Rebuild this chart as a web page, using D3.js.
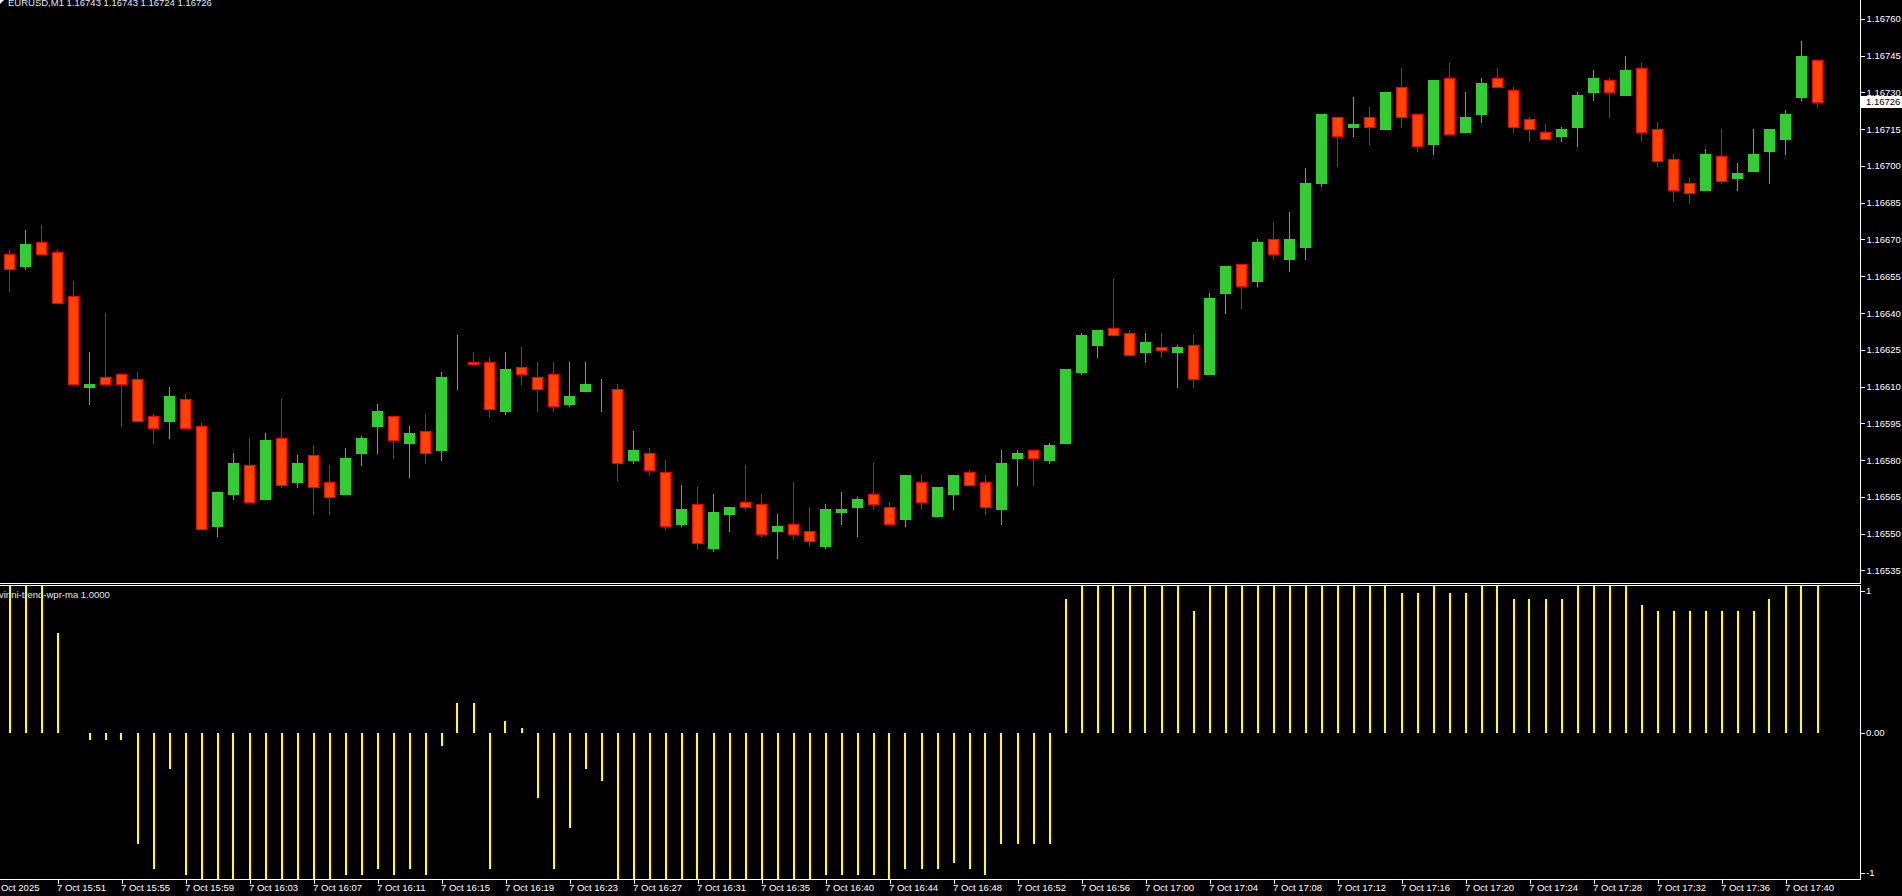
<!DOCTYPE html>
<html><head><meta charset="utf-8">
<script src="https://cdn.jsdelivr.net/npm/d3@7"></script>
<style>html,body{margin:0;padding:0;background:#000;overflow:hidden}svg{display:block}
text{font-family:"Liberation Sans",Arial,sans-serif;font-size:9.5px}</style>
</head><body><svg id="c" width="1902" height="896"></svg>
<script>
const symbol = "EURUSD,M1";
const indicatorName = "virini-trend-wpr-ma 1.0000";
const opens = [1.16664,1.16659,1.16669,1.16665,1.16647,1.16610,1.16614,1.16615,1.16613,1.16598,
1.16596,1.16605,1.16594,1.16553,1.16566,1.16578,1.16564,1.16589,1.16571,1.16582,
1.16571,1.16566,1.16583,1.16594,1.16598,1.16587,1.16592,1.16584,1.16619,1.16620,
1.16620,1.16600,1.16618,1.16614,1.16615,1.16603,1.16608,1.16610,1.16609,1.16580,
1.16583,1.16575,1.16554,1.16562,1.16544,1.16558,1.16563,1.16562,1.16551,1.16554,
1.16551,1.16545,1.16559,1.16561,1.16566,1.16561,1.16556,1.16571,1.16557,1.16566,
1.16575,1.16571,1.16560,1.16581,1.16584,1.16580,1.16587,1.16616,1.16627,1.16634,
1.16632,1.16624,1.16626,1.16624,1.16627,1.16615,1.16648,1.16660,1.16653,1.16670,
1.16662,1.16667,1.16693,1.16720,1.16716,1.16720,1.16715,1.16732,1.16721,1.16709,
1.16736,1.16714,1.16721,1.16736,1.16731,1.16719,1.16714,1.16712,1.16716,1.16730,
1.16735,1.16729,1.16740,1.16715,1.16703,1.16693,1.16690,1.16704,1.16695,1.16698,
1.16706,1.16711,1.16728,1.16743];
const highs = [1.16666,1.16674,1.16676,1.16666,1.16653,1.16624,1.16640,1.16615,1.16616,1.16599,
1.16610,1.16607,1.16595,1.16567,1.16583,1.16589,1.16591,1.16605,1.16582,1.16586,
1.16578,1.16585,1.16590,1.16603,1.16598,1.16594,1.16599,1.16616,1.16631,1.16624,
1.16622,1.16624,1.16626,1.16620,1.16620,1.16620,1.16620,1.16613,1.16611,1.16592,
1.16585,1.16580,1.16570,1.16569,1.16566,1.16561,1.16578,1.16566,1.16558,1.16571,
1.16561,1.16562,1.16567,1.16565,1.16579,1.16563,1.16574,1.16574,1.16569,1.16574,
1.16576,1.16574,1.16584,1.16584,1.16584,1.16587,1.16617,1.16632,1.16633,1.16654,
1.16633,1.16632,1.16632,1.16627,1.16631,1.16648,1.16659,1.16660,1.16670,1.16677,
1.16681,1.16699,1.16721,1.16720,1.16728,1.16724,1.16730,1.16740,1.16721,1.16735,
1.16742,1.16730,1.16736,1.16740,1.16732,1.16720,1.16717,1.16716,1.16730,1.16739,
1.16736,1.16745,1.16742,1.16718,1.16705,1.16695,1.16707,1.16715,1.16701,1.16715,
1.16715,1.16723,1.16751,1.16743];
const lows = [1.16649,1.16658,1.16664,1.16644,1.16611,1.16603,1.16611,1.16594,1.16596,1.16587,
1.16589,1.16593,1.16552,1.16549,1.16564,1.16563,1.16564,1.16569,1.16569,1.16558,
1.16558,1.16566,1.16578,1.16583,1.16581,1.16573,1.16579,1.16580,1.16609,1.16619,
1.16598,1.16599,1.16611,1.16600,1.16600,1.16602,1.16608,1.16600,1.16572,1.16579,
1.16574,1.16552,1.16553,1.16544,1.16543,1.16551,1.16560,1.16549,1.16540,1.16548,
1.16545,1.16544,1.16554,1.16549,1.16560,1.16554,1.16553,1.16560,1.16557,1.16560,
1.16570,1.16558,1.16554,1.16570,1.16570,1.16579,1.16587,1.16615,1.16622,1.16631,
1.16623,1.16620,1.16622,1.16610,1.16610,1.16615,1.16640,1.16642,1.16651,1.16662,
1.16657,1.16662,1.16692,1.16700,1.16712,1.16709,1.16715,1.16716,1.16706,1.16705,
1.16713,1.16714,1.16718,1.16732,1.16714,1.16710,1.16711,1.16710,1.16708,1.16727,
1.16720,1.16729,1.16710,1.16700,1.16686,1.16685,1.16690,1.16693,1.16690,1.16698,
1.16693,1.16705,1.16727,1.16724];
const closes = [1.16658,1.16668,1.16664,1.16644,1.16611,1.16611,1.16611,1.16611,1.16596,1.16593,
1.16606,1.16593,1.16552,1.16567,1.16579,1.16563,1.16588,1.16570,1.16579,1.16569,
1.16565,1.16581,1.16589,1.16600,1.16588,1.16591,1.16583,1.16614,1.16619,1.16619,
1.16601,1.16617,1.16615,1.16609,1.16602,1.16606,1.16611,1.16610,1.16579,1.16584,
1.16576,1.16553,1.16560,1.16546,1.16559,1.16561,1.16561,1.16550,1.16553,1.16550,
1.16547,1.16560,1.16560,1.16564,1.16562,1.16554,1.16574,1.16563,1.16569,1.16574,
1.16570,1.16561,1.16579,1.16583,1.16581,1.16586,1.16617,1.16631,1.16633,1.16631,
1.16623,1.16628,1.16625,1.16626,1.16613,1.16646,1.16659,1.16651,1.16669,1.16664,
1.16670,1.16693,1.16721,1.16712,1.16717,1.16716,1.16730,1.16720,1.16708,1.16735,
1.16713,1.16720,1.16734,1.16732,1.16716,1.16715,1.16711,1.16715,1.16729,1.16736,
1.16730,1.16739,1.16714,1.16702,1.16690,1.16689,1.16705,1.16694,1.16697,1.16705,
1.16715,1.16721,1.16745,1.16726];
const wprTrend = [1,1,1,0.68,0,-0.05,-0.05,-0.05,-0.76,-0.93,
-0.25,-0.97,-1,-1,-1,-1,-1,-1,-1,-1,
-1,-0.97,-0.97,-0.93,-0.97,-0.93,-0.97,-0.09,0.2,0.2,
-0.93,0.08,0.03,-0.45,-0.93,-0.65,-0.25,-0.33,-1,-1,
-1,-1,-1,-1,-1,-1,-1,-1,-1,-1,
-1,-0.97,-0.97,-0.97,-0.97,-1,-0.93,-0.93,-0.93,-0.89,
-0.93,-0.97,-0.76,-0.76,-0.76,-0.76,0.91,1,1,1,
1,1,1,1,0.83,1,1,1,1,1,
1,1,1,1,1,1,1,0.95,0.95,1,
0.95,0.95,1,1,0.91,0.91,0.91,0.91,1,1,
1,1,0.87,0.83,0.83,0.83,0.83,0.83,0.83,0.83,
0.91,1,1,1];
const priceTicks = [1.16760,1.16745,1.16730,1.16715,1.16700,1.16685,1.16670,1.16655,1.16640,1.16625,1.16610,1.16595,1.16580,1.16565,1.16550,1.16535];
const indTicks = [1,0,-1];
const indTickLabels = ["1","0.00","-1"];
const timeTickIndex = [-1,3,7,11,15,19,23,27,31,35,39,43,47,51,55,59,63,67,71,75,79,83,87,91,95,99,103,107,111];
const timeTickLabels = ["7 Oct 2025","7 Oct 15:51","7 Oct 15:55","7 Oct 15:59","7 Oct 16:03","7 Oct 16:07","7 Oct 16:11","7 Oct 16:15","7 Oct 16:19","7 Oct 16:23","7 Oct 16:27","7 Oct 16:31","7 Oct 16:35","7 Oct 16:40","7 Oct 16:44","7 Oct 16:48","7 Oct 16:52","7 Oct 16:56","7 Oct 17:00","7 Oct 17:04","7 Oct 17:08","7 Oct 17:12","7 Oct 17:16","7 Oct 17:20","7 Oct 17:24","7 Oct 17:28","7 Oct 17:32","7 Oct 17:36","7 Oct 17:40"];

const svg = d3.select("#c");
const n = opens.length;
const axisX = 1860.5;
const x = d3.scaleLinear().domain([0, n-1]).range([9.5, 9.5 + 16*(n-1)]);
const yP = d3.scaleLinear().domain([1.16535, 1.16760]).range([570.4, 18.8]);
const yI = d3.scaleLinear().domain([-1, 1]).range([879, 586]);
const fmt5 = d3.format(".5f");
const BULL = "#32CD32", BEAR_FILL = "#FF4500", BEAR_LINE = "#FF0000";

svg.append("rect").attr("width",1902).attr("height",896).attr("fill","#000");

// header
svg.append("path").attr("d","M0,0L4,0L0,4Z").attr("fill","#fff");
const L = n-1;
svg.append("text").attr("x",8).attr("y",5.5).attr("fill","#dfe8f8")
  .text(symbol + "  " + [opens[L],highs[L],lows[L],closes[L]].map(fmt5).join(" "));

// candles
const candles = svg.append("g").attr("shape-rendering","crispEdges");
const data = d3.range(n).map(i => ({i, o:opens[i], h:highs[i], l:lows[i], c:closes[i]}));
candles.selectAll("line.wick").data(data).join("line").attr("class","wick")
  .attr("x1", d => x(d.i)).attr("x2", d => x(d.i))
  .attr("y1", d => Math.round(yP(d.h))).attr("y2", d => Math.round(yP(d.l)) + 1)
  .attr("stroke", d => d.c >= d.o ? BULL : BEAR_LINE).attr("stroke-width",1);
candles.selectAll("rect.body").data(data).join("rect").attr("class","body")
  .attr("x", d => x(d.i) - 5)
  .attr("y", d => Math.round(yP(Math.max(d.o,d.c))) + 0.5)
  .attr("width", 10)
  .attr("height", d => Math.max(0, Math.round(yP(Math.min(d.o,d.c))) - Math.round(yP(Math.max(d.o,d.c)))))
  .attr("fill", d => d.c >= d.o ? BULL : BEAR_FILL)
  .attr("stroke", d => d.c >= d.o ? BULL : BEAR_LINE).attr("stroke-width",1);

// price axis
const pa = svg.append("g").attr("transform",`translate(${axisX},0)`)
  .call(d3.axisRight(yP).tickValues(priceTicks).tickSize(4).tickPadding(2).tickFormat(fmt5));
pa.select(".domain").remove();
pa.selectAll("line").attr("stroke","#fff").attr("shape-rendering","crispEdges");
pa.selectAll("text").attr("fill","#fff").style("font-family","Liberation Sans").style("font-size","9.5px");

// current price box
const yc = yP(closes[L]);
svg.append("rect").attr("x",1861).attr("y",Math.round(yc)-6).attr("width",41).attr("height",12).attr("fill","#fff");
svg.append("text").attr("x",1866).attr("y",yc).attr("dy","0.35em").attr("fill","#000").text(fmt5(closes[L]));

// frame lines
const frame = svg.append("g").attr("stroke","#fff").attr("stroke-width",1).attr("shape-rendering","crispEdges");
frame.append("line").attr("x1",0).attr("x2",axisX).attr("y1",583.5).attr("y2",583.5);
frame.append("line").attr("x1",0).attr("x2",axisX).attr("y1",585.5).attr("y2",585.5);
frame.append("line").attr("x1",axisX).attr("x2",axisX).attr("y1",0).attr("y2",583.5);
frame.append("line").attr("x1",axisX).attr("x2",axisX).attr("y1",585.5).attr("y2",879.5);
frame.append("line").attr("x1",0).attr("x2",axisX).attr("y1",879.5).attr("y2",879.5);

// indicator label
svg.append("text").attr("x",-1).attr("y",598).attr("fill","#e6e6e6").text(indicatorName);

// indicator bars
svg.append("g").attr("shape-rendering","crispEdges").selectAll("rect")
  .data(wprTrend.map((v,i)=>({i,v})).filter(d=>d.v!==0)).join("rect")
  .attr("x", d => Math.round(x(d.i)) - 1)
  .attr("y", d => Math.min(yI(0), yI(d.v)))
  .attr("width", 2)
  .attr("height", d => Math.abs(yI(d.v) - yI(0)))
  .attr("fill","#FFFF00");

// indicator axis
const ia = svg.append("g");
indTicks.forEach((v,k) => {
  const yy = Math.max(591, Math.min(873, yI(v)));
  ia.append("line").attr("x1",axisX).attr("x2",axisX+4).attr("y1",Math.round(yy)+0.5).attr("y2",Math.round(yy)+0.5)
    .attr("stroke","#fff").attr("shape-rendering","crispEdges");
  ia.append("text").attr("x",1866).attr("y",yy).attr("dy","0.35em").attr("fill","#fff").text(indTickLabels[k]);
});

// time axis
const ta = svg.append("g").attr("transform","translate(0,879.5)")
  .call(d3.axisBottom(x).tickValues(timeTickIndex).tickSize(4).tickPadding(1)
    .tickFormat((d,k) => timeTickLabels[k]));
ta.select(".domain").remove();
ta.selectAll("line").attr("stroke","#fff").attr("shape-rendering","crispEdges");
ta.selectAll("text").attr("fill","#fff").attr("text-anchor","start").attr("dx",-1)
  .style("font-family","Liberation Sans").style("font-size","9.5px");
</script>
</body></html>
